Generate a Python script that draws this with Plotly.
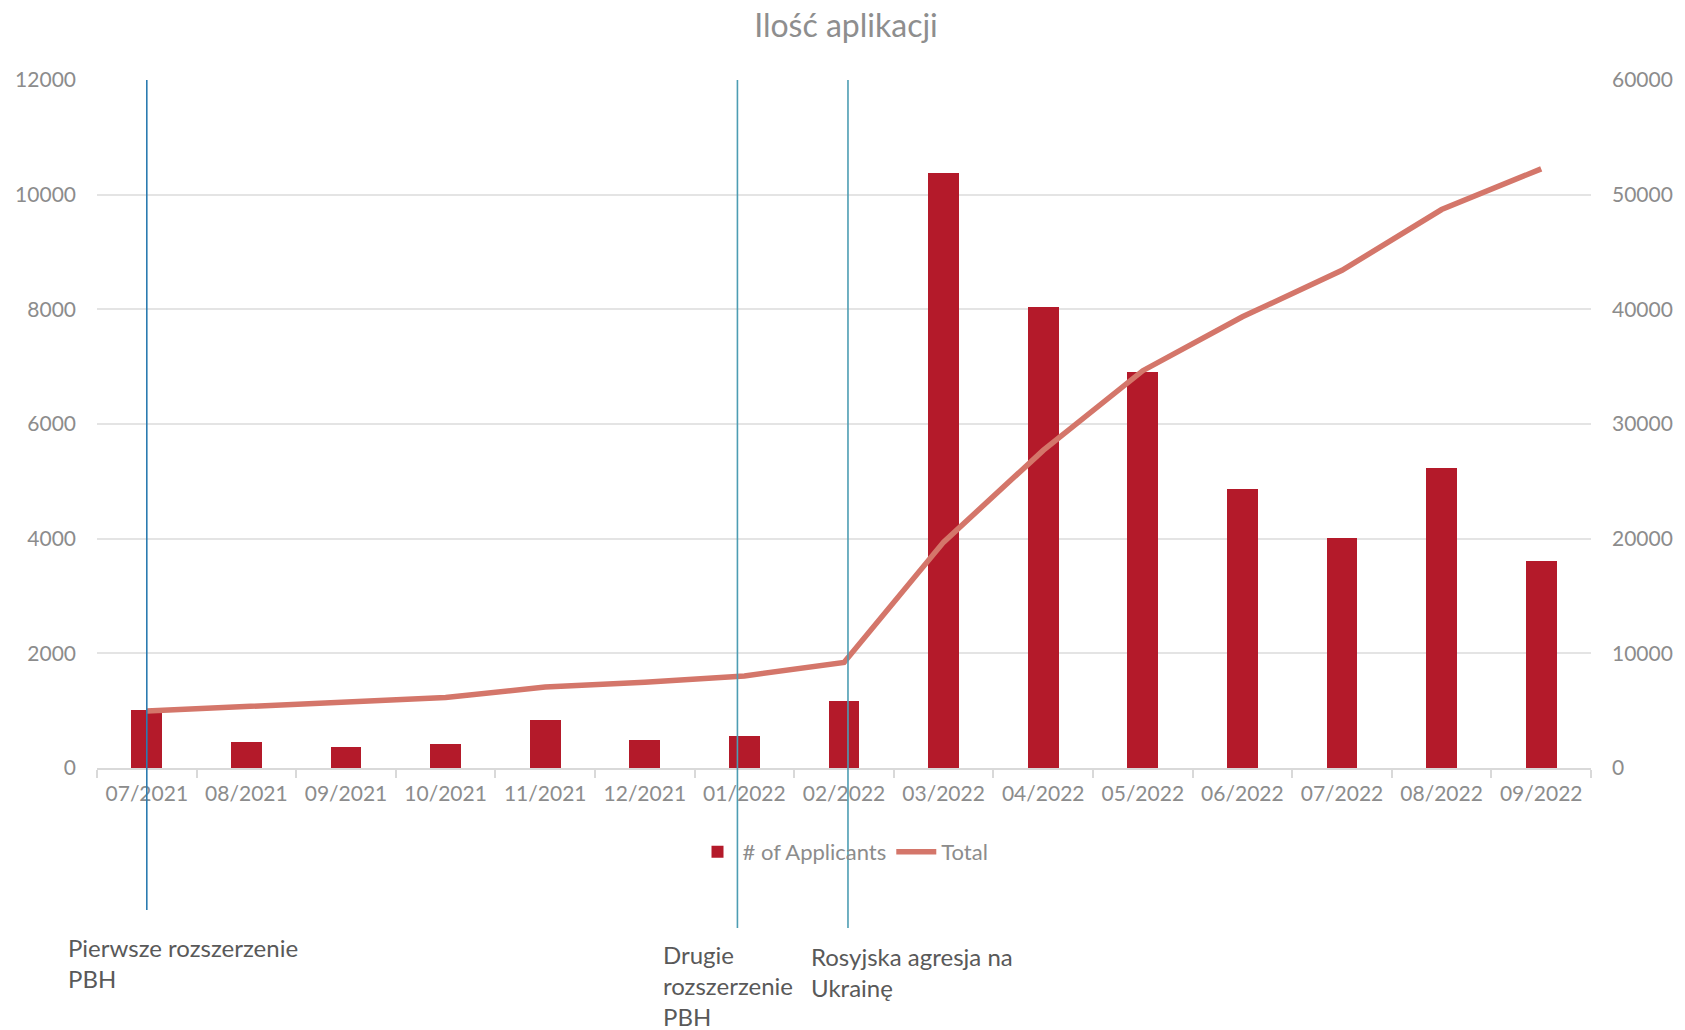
import plotly.graph_objects as go

months = ["07/2021", "08/2021", "09/2021", "10/2021", "11/2021", "12/2021",
          "01/2022", "02/2022", "03/2022", "04/2022", "05/2022", "06/2022",
          "07/2022", "08/2022", "09/2022"]
applicants = [1020, 445, 375, 410, 830, 485, 560, 1163, 10370, 8035, 6900,
              4865, 4007, 5230, 3618]
total = [4970, 5390, 5760, 6150, 7060, 7480, 8030, 9200, 19700, 27700, 34650,
         39350, 43400, 48700, 52250]

# event markers (category position) and their labels
event_pos = [0.0, 5.93, 7.04]
event_labels = ["Pierwsze rozszerzenie<br>PBH",
                "Drugie<br>rozszerzenie<br>PBH",
                "Rosyjska agresja na<br>Ukrainę"]
event_colors = ["#2b7bb0", "#4d9db3", "#4d9db3"]

FONT = "Lato"
GRAY = "#8c8c8c"

fig = go.Figure()
fig.add_trace(go.Bar(x=months, y=applicants, name="# of Applicants",
                     marker=dict(color="#b41a2a", line=dict(width=0)),
                     width=0.31, yaxis="y"))
fig.add_trace(go.Scatter(x=months, y=total, name="Total", mode="lines",
                         line=dict(color="#d4766a", width=5.5), yaxis="y2"))

W, H = 1685, 1030
L, T = 97, 80
PR, PB = 1597, 768
R, B = W - PR, H - PB
ph = PB - T
pw = PR - L


def py(pix):
    return (PB - pix) / ph


def px(pix):
    return (pix - L) / pw


line_bottoms = [910, 928, 928]
for pos, yb, col in zip(event_pos, line_bottoms, event_colors):
    fig.add_shape(type="line", xref="x", yref="paper", x0=pos, x1=pos,
                  y0=py(yb), y1=1, line=dict(color=col, width=1.6),
                  layer="above")

ann_x = [66, 663, 812]
ann_top = [931, 938, 940]
for lab, ax, at in zip(event_labels, ann_x, ann_top):
    fig.add_annotation(text=lab, xref="paper", yref="paper", x=px(ax), y=py(at),
                       xanchor="left", yanchor="top", align="left",
                       showarrow=False,
                       font=dict(family=FONT, size=24, color="#595959"))

fig.update_layout(
    width=W, height=H,
    margin=dict(l=L, r=R, t=T, b=B),
    paper_bgcolor="white", plot_bgcolor="white",
    title=dict(text="Ilość aplikacji", x=846 / W, xanchor="center",
               y=1 - 26 / H, yanchor="middle",
               font=dict(family=FONT, size=32, color="#8e8e8e")),
    font=dict(family=FONT, color=GRAY, size=21),
    bargap=0,
    showlegend=True,
    legend=dict(orientation="h", x=px(846), xanchor="center", y=py(852),
                yanchor="middle", font=dict(family=FONT, size=22, color=GRAY),
                itemwidth=40, bgcolor="rgba(0,0,0,0)"),
    xaxis=dict(type="category", showgrid=False, showline=True,
               linecolor="#d9d9d9", linewidth=1.5, ticks="outside",
               tickson="boundaries", ticklen=8, tickcolor="#d9d9d9",
               tickwidth=1.5, ticklabelstandoff=6,
               tickfont=dict(family=FONT, size=21, color=GRAY),
               range=[-0.5, len(months) - 0.5]),
    yaxis=dict(range=[0, 12000], dtick=2000, showgrid=True,
               gridcolor="#e4e4e4", gridwidth=1.5, zeroline=False,
               showline=False, ticks="", ticklabelstandoff=20,
               tickformat="d",
               tickfont=dict(family=FONT, size=21, color=GRAY)),
    yaxis2=dict(range=[0, 60000], dtick=10000, overlaying="y", side="right",
                showgrid=False, zeroline=False, showline=False, ticks="",
                ticklabelstandoff=20, tickformat="d",
                tickfont=dict(family=FONT, size=21, color=GRAY)),
)

fig.write_html("out.html",
               config={"displayModeBar": False},
               post_script="document.body.style.margin='0';"
                           "document.body.style.overflow='hidden';")
